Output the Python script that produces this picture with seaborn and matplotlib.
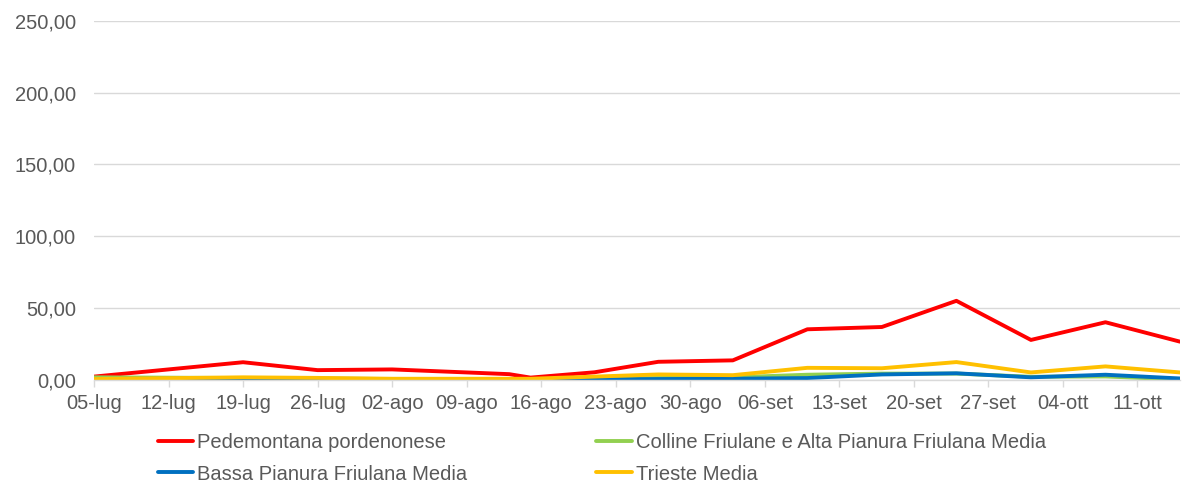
import matplotlib
matplotlib.use("Agg")
import matplotlib.pyplot as plt
import matplotlib.dates as mdates
from matplotlib.ticker import FuncFormatter, FixedLocator
import pandas as pd
import seaborn as sns

# Sampling dates (year is only used to build a date axis)
dates = ["2021-07-05", "2021-07-19", "2021-07-26", "2021-08-02", "2021-08-13",
         "2021-08-15", "2021-08-21", "2021-08-27", "2021-09-03", "2021-09-10",
         "2021-09-17", "2021-09-24", "2021-10-01", "2021-10-08", "2021-10-15"]

series_names = ["Pedemontana pordenonese",
                "Colline Friulane e Alta Pianura Friulana Media",
                "Bassa Pianura Friulana Media",
                "Trieste Media"]

pedemontana = [2.5, 12.5, 7.0, 7.5, 4.2, 1.8, 5.5, 12.8, 13.8, 35.4, 37.0, 55.2, 28.0, 40.3, 26.8]
colline = [2.0, 1.5, 1.2, 0.8, 0.6, 0.5, 1.0, 1.5, 2.0, 3.8, 4.6, 4.6, 2.4, 2.6, 0.5]
bassa = [0.3, 0.5, 0.5, 0.3, 0.3, 0.3, 0.5, 0.8, 1.0, 1.5, 4.0, 4.8, 2.0, 3.8, 1.2]
trieste = [0.8, 2.0, 1.6, 1.0, 1.0, 1.0, 2.5, 4.0, 3.5, 8.6, 8.3, 12.6, 5.4, 9.6, 5.4]

tick_dates = ["2021-07-05", "2021-07-12", "2021-07-19", "2021-07-26", "2021-08-02",
              "2021-08-09", "2021-08-16", "2021-08-23", "2021-08-30", "2021-09-06",
              "2021-09-13", "2021-09-20", "2021-09-27", "2021-10-04", "2021-10-11"]
tick_labels = ["05-lug", "12-lug", "19-lug", "26-lug", "02-ago", "09-ago", "16-ago",
               "23-ago", "30-ago", "06-set", "13-set", "20-set", "27-set", "04-ott", "11-ott"]

y_ticks = [0, 50, 100, 150, 200, 250]

colors = ["#FF0000", "#92D050", "#0070C0", "#FFC000"]

frames = []
for name, vals in zip(series_names, [pedemontana, colline, bassa, trieste]):
    frames.append(pd.DataFrame({"Data": pd.to_datetime(dates), "Valore": vals, "Serie": name}))
df = pd.concat(frames, ignore_index=True)

sns.set_theme(style="white")
plt.rcParams["font.family"] = ["Liberation Sans", "DejaVu Sans"]

FS = 14.5

fig = plt.figure(figsize=(11.82, 4.90), dpi=100)
ax = fig.add_axes([94 / 1182, 1 - 380.2 / 490, (1180 - 94) / 1182, (380.2 - 20.7) / 490])

sns.lineplot(data=df, x="Data", y="Valore", hue="Serie", hue_order=series_names,
             palette=colors, linewidth=2.8, ax=ax, legend=False)

x0 = mdates.date2num(pd.Timestamp(dates[0]))
x1 = mdates.date2num(pd.Timestamp(dates[-1]))
ax.set_xlim(x0, x1)
ax.set_ylim(0, 250)

ax.xaxis.set_major_locator(FixedLocator(mdates.date2num(pd.to_datetime(tick_dates))))
ax.set_xticklabels(tick_labels)
ax.set_yticks(y_ticks)
ax.yaxis.set_major_formatter(FuncFormatter(lambda v, p: f"{v:.2f}".replace(".", ",")))

ax.grid(axis="y", color="#D9D9D9", linewidth=1.0)
ax.grid(axis="x", visible=False)
for s in ["top", "right", "left"]:
    ax.spines[s].set_visible(False)
ax.spines["bottom"].set_color("#D9D9D9")
ax.spines["bottom"].set_linewidth(1.0)

ax.tick_params(axis="x", which="major", direction="out", length=5, width=1,
               color="#D9D9D9", labelsize=FS, labelcolor="#595959", pad=5, bottom=True)
ax.tick_params(axis="y", length=0, labelsize=FS, labelcolor="#595959", pad=13)
ax.set_xlabel("")
ax.set_ylabel("")

# Legend filled row by row: two entries per row
handles = [plt.Line2D([], [], color=c, linewidth=2.8) for c in colors]
order = [0, 2, 1, 3]
fig.legend([handles[i] for i in order], [series_names[i] for i in order],
           ncol=2, loc="upper left",
           bbox_to_anchor=(150 / 1182, 1 - 425 / 490), frameon=False,
           fontsize=FS, labelcolor="#595959", handlelength=1.75, handletextpad=0.2,
           columnspacing=6.4, labelspacing=0.62, borderaxespad=0)

fig.savefig("out.png", dpi=100)
